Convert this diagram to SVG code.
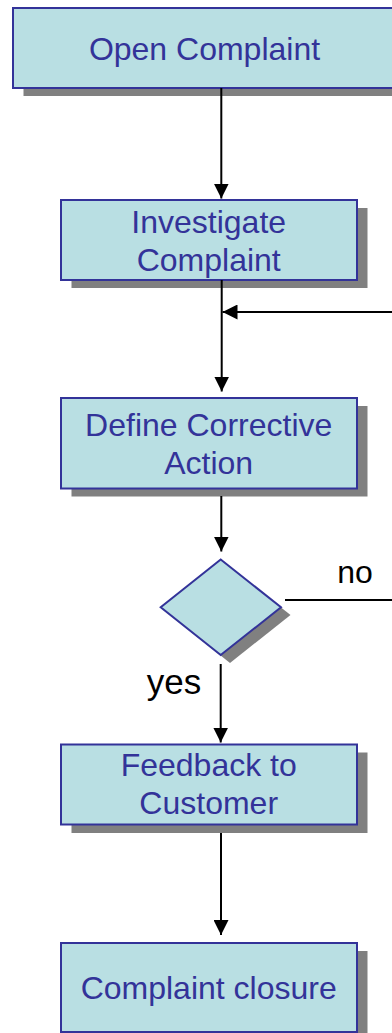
<svg xmlns="http://www.w3.org/2000/svg" width="392" height="1033" viewBox="0 0 392 1033">
  <defs>
    <marker id="arrow" markerUnits="userSpaceOnUse" markerWidth="15" markerHeight="15" refX="15" refY="7.5" orient="auto">
      <path d="M0,0 L15,7.5 L0,15 Z" fill="#000"/>
    </marker>
    <style>
      .shadow { fill: #808080; }
      .box { fill: #B9DFE3; stroke: #333399; stroke-width: 2; }
      .label { font-family: "Liberation Sans", Arial, sans-serif; font-size: 32px; fill: #333399; text-anchor: middle; }
      .edge-label { font-family: "Liberation Sans", Arial, sans-serif; fill: #000; text-anchor: middle; }
      .conn { stroke: #000; stroke-width: 2; fill: none; }
    </style>
  </defs>
  <rect width="392" height="1033" fill="#fff"/>

  <!-- process steps -->
  <g id="open-complaint">
    <rect class="shadow" x="23.5" y="16" width="384" height="80"/>
    <rect class="box" x="13" y="8" width="384" height="80"/>
    <text class="label" x="204.5" y="60">Open Complaint</text>
  </g>

  <g id="investigate-complaint">
    <rect class="shadow" x="71.5" y="208" width="296" height="80"/>
    <rect class="box" x="61" y="200" width="296" height="80"/>
    <text class="label" x="208.7" y="233">Investigate</text>
    <text class="label" x="208.7" y="271">Complaint</text>
  </g>

  <g id="define-corrective-action">
    <rect class="shadow" x="71.5" y="406" width="296" height="90.5"/>
    <rect class="box" x="61" y="398" width="296" height="90.5"/>
    <text class="label" x="208.7" y="436">Define Corrective</text>
    <text class="label" x="208.7" y="473.5">Action</text>
  </g>

  <g id="decision">
    <polygon class="shadow" points="230,567 290.5,615 230,663 170,615"/>
    <polygon class="box" points="220.7,559.5 281,607.3 220.7,655 160.7,607.3"/>
  </g>

  <g id="feedback-to-customer">
    <rect class="shadow" x="71.5" y="752.5" width="296" height="80.5"/>
    <rect class="box" x="61" y="744.5" width="296" height="80"/>
    <text class="label" x="208.7" y="776">Feedback to</text>
    <text class="label" x="208.7" y="814">Customer</text>
  </g>

  <g id="complaint-closure">
    <rect class="shadow" x="71.5" y="951" width="296" height="95"/>
    <rect class="box" x="61" y="943" width="296" height="89"/>
    <text class="label" x="208.7" y="998.5">Complaint closure</text>
  </g>

  <!-- connectors -->
  <g id="connectors">
    <line class="conn" x1="221.3" y1="88" x2="221.3" y2="198.5" marker-end="url(#arrow)"/>
    <line class="conn" x1="221.7" y1="280" x2="221.7" y2="391.5" marker-end="url(#arrow)"/>
    <line class="conn" x1="392" y1="312" x2="222.5" y2="312" marker-end="url(#arrow)"/>
    <line class="conn" x1="221.3" y1="496" x2="221.3" y2="551.5" marker-end="url(#arrow)"/>
    <line class="conn" x1="285" y1="600" x2="392" y2="600"/>
    <line class="conn" x1="220.7" y1="664" x2="220.7" y2="742.5" marker-end="url(#arrow)"/>
    <line class="conn" x1="221" y1="833" x2="221" y2="935" marker-end="url(#arrow)"/>
    <text class="edge-label" x="355" y="583" font-size="32">no</text>
    <text class="edge-label" x="174" y="693.5" font-size="35">yes</text>
  </g>
</svg>
